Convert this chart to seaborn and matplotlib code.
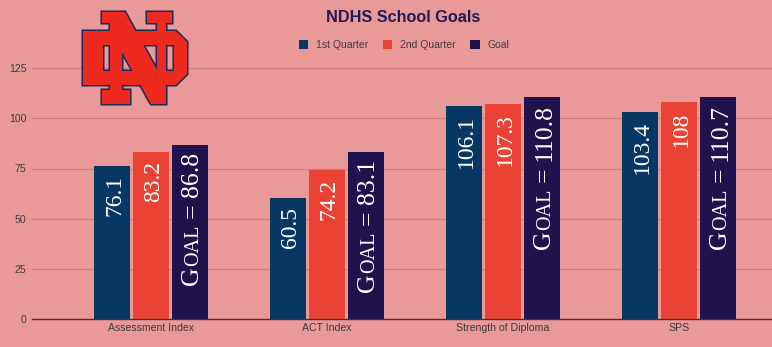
import numpy as np
import pandas as pd
import seaborn as sns
import matplotlib
matplotlib.use("Agg")
import matplotlib.pyplot as plt
from matplotlib.patches import PathPatch, Patch
from matplotlib.path import Path
from matplotlib.transforms import IdentityTransform, offset_copy

# ---------------- data ----------------
categories = ["Assessment Index", "ACT Index", "Strength of Diploma", "SPS"]
series = ["1st Quarter", "2nd Quarter", "Goal"]
q1_values = [76.1, 60.5, 106.1, 103.4]
q2_values = [83.2, 74.2, 107.3, 108]
goal_values = [86.8, 83.1, 110.8, 110.7]
q1_labels = ["76.1", "60.5", "106.1", "103.4"]
q2_labels = ["83.2", "74.2", "107.3", "108"]
goal_labels = ["86.8", "83.1", "110.8", "110.7"]
yticks = [0, 25, 50, 75, 100, 125]
title = "NDHS School Goals"

# ---------------- style ----------------
W, H = 772, 347
BG = "#EA9999"
colors = ["#073763", "#EA4335", "#20124D"]
GRID = "#C98082"
TXT = "#3d3d3d"

sns.set_style("white")
plt.rcParams["font.family"] = ["Liberation Sans", "DejaVu Sans"]

fig = plt.figure(figsize=(W / 100, H / 100), dpi=100, facecolor=BG)
ax = fig.add_axes([32 / W, 28 / H, (W - 32) / W, 301 / H])
ax.set_facecolor(BG)

df = pd.DataFrame({
    "category": categories * 3,
    "series": [series[0]] * 4 + [series[1]] * 4 + [series[2]] * 4,
    "value": q1_values + q2_values + goal_values,
})
sns.barplot(data=df, x="category", y="value", hue="series", order=categories,
            hue_order=series, palette=colors, saturation=1, width=0.66, gap=0.07,
            linewidth=0, legend=False, ax=ax, zorder=3)

ax.set_ylim(0, 150)
ax.set_xlim(-(151 - 32) / 176, 3 + (772 - 679) / 176)
ax.set_yticks(yticks)
ax.set_yticklabels([str(v) for v in yticks])
ax.set_xlabel("")
ax.set_ylabel("")
ax.tick_params(axis="both", length=0, colors=TXT, labelsize=7.6)
ax.tick_params(axis="y", pad=4)
ax.tick_params(axis="x", pad=3)
ax.yaxis.grid(True, color=GRID, linewidth=0.9, zorder=0)
ax.set_axisbelow(True)
for s in ["left", "right", "top"]:
    ax.spines[s].set_visible(False)
ax.spines["bottom"].set_color("#4a2f30")
ax.spines["bottom"].set_linewidth(1.0)
ax.spines["bottom"].set_zorder(4)

# ---------------- title & legend ----------------
fig.text(403 / W, 1 - 18 / H, title, ha="center", va="center", fontsize=11.7,
         fontweight="bold", color="#211A55")
handles = [Patch(facecolor=c, edgecolor="none") for c in colors]
fig.legend(handles, series, loc="center", bbox_to_anchor=(404 / W, 1 - 45 / H), ncol=3,
           frameon=False, fontsize=7.5, handlelength=0.95, handleheight=0.95,
           handletextpad=0.75, columnspacing=1.35, labelcolor=TXT)

# ---------------- bar labels ----------------
SERIF = "Liberation Serif"
qsize = 17
big, small = 18.5, 14.5
labels_all = [q1_labels, q2_labels, goal_labels]


def cap(size):
    return 0.66 * size * 100 / 72


fig.canvas.draw()
r = fig.canvas.get_renderer()

for h, cont in enumerate(ax.containers):
    for i, bar in enumerate(cont):
        xc = bar.get_x() + bar.get_width() / 2
        top = bar.get_height()
        if h < 2:
            ax.text(xc, top, labels_all[h][i], rotation=90, rotation_mode="anchor",
                    ha="right", va="baseline", family=SERIF, fontsize=qsize, color="white",
                    transform=offset_copy(ax.transData, fig=fig, x=cap(qsize) / 2, y=-9, units="dots"),
                    zorder=5)
        else:
            pieces = [("G", big, 0), ("OAL", small, 0.5), ("=", big, 6.5),
                      (labels_all[h][i], big, 6.5)]
            texts = []
            for s, size, _ in pieces:
                t = ax.text(xc, top, s, rotation=90, rotation_mode="anchor", ha="left",
                            va="baseline", family=SERIF, fontsize=size, color="white", zorder=5)
                texts.append(t)
            lens = [t.get_window_extent(r).height for t in texts]
            total = sum(lens) + sum(p[2] for p in pieces)
            cur = -7 - total
            for t, L, p in zip(texts, lens, pieces):
                cur += p[2]
                t.set_transform(offset_copy(ax.transData, fig=fig, x=cap(big) / 2, y=cur, units="dots"))
                cur += L

# ---------------- ND monogram (decorative logo, pixel coords from top-left) ----------------
RED, NAVY = "#EE2A1E", "#1B2A5C"


def px_path(polys):
    verts, codes = [], []
    for poly in polys:
        pts = [(x, H - y) for x, y in poly]
        verts += pts + [pts[0]]
        codes += [Path.MOVETO] + [Path.LINETO] * (len(pts) - 1) + [Path.CLOSEPOLY]
    return Path(verts, codes)


d_outer = [(83, 31), (176, 31), (187, 42), (187, 74), (176, 85), (83, 85)]
d_hole = [(103, 71), (174, 71), (174, 45), (103, 45)]
n_shape = [(102, 12), (125, 12), (157, 70), (157, 23), (147, 23), (147, 12), (172, 12),
           (172, 23), (166, 23), (166, 104), (151, 104), (122, 52), (122, 90), (130, 90),
           (130, 104), (102, 104), (102, 90), (110, 90), (110, 23), (102, 23)]
shapes = [px_path([d_outer, d_hole]), px_path([n_shape])]
for p in shapes:
    fig.add_artist(PathPatch(p, facecolor=NAVY, edgecolor=NAVY, linewidth=2.2,
                             joinstyle="miter", transform=IdentityTransform(), zorder=6))
for p in shapes:
    fig.add_artist(PathPatch(p, facecolor=RED, edgecolor="none",
                             transform=IdentityTransform(), zorder=7))

fig.savefig("out.png", dpi=100, facecolor=BG)
